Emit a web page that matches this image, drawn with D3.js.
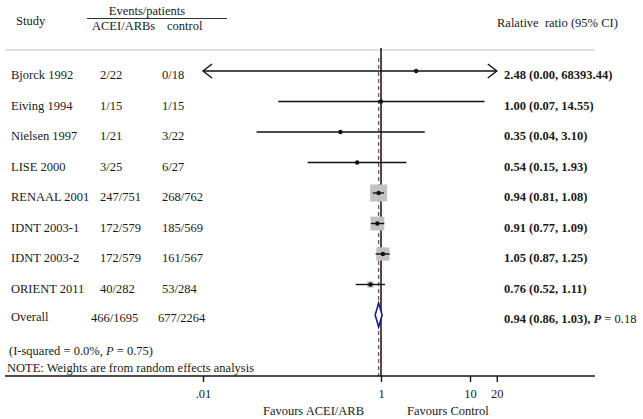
<!DOCTYPE html>
<html><head><meta charset="utf-8">
<script src="https://cdn.jsdelivr.net/npm/d3@7"></script>
<style>
html,body{margin:0;padding:0;background:#fff;}
svg{display:block;font-family:"Liberation Serif","Times New Roman",serif;}
</style></head>
<body>
<svg id="chart" width="643" height="419"></svg>
<script>
const studies = ["Bjorck 1992","Eiving 1994","Nielsen 1997","LISE 2000","RENAAL 2001","IDNT 2003-1","IDNT 2003-2","ORIENT 2011"];
const aceiEvents = ["2/22","1/15","1/21","3/25","247/751","172/579","172/579","40/282"];
const controlEvents = ["0/18","1/15","3/22","6/27","268/762","185/569","161/567","53/284"];
const rr = [2.48, 1.00, 0.35, 0.54, 0.94, 0.91, 1.05, 0.76];
const ciLow = [0.00, 0.07, 0.04, 0.15, 0.81, 0.77, 0.87, 0.52];
const ciHigh = [68393.44, 14.55, 3.10, 1.93, 1.08, 1.09, 1.25, 1.11];
const weights = [0.02, 0.11, 0.17, 0.5, 41.2, 27.4, 24.8, 5.8];
const overall = {label:"Overall", acei:"466/1695", control:"677/2264", rr:0.94, lo:0.86, hi:1.03, p:"0.18"};
const heterogeneity = {i2:"0.0%", p:"0.75"};
const tickValues = [0.01, 1, 10, 20];
const tickLabels = [".01", "1", "10", "20"];

const svg = d3.select("#chart");
const FS = 12.5;
const textCol = "#1a1a1a";

const x = d3.scaleLog().domain([0.01, 20]).range([203, 496.8]);
const [dmin, dmax] = x.domain();
const nRows = studies.length + 1;
const y = d3.scalePoint().domain(d3.range(nRows)).range([71, 315]);
const axisY = 376;

// header
svg.append("text").attr("x",16).attr("y",21).attr("dominant-baseline","central")
  .attr("font-size",FS).attr("fill",textCol).text("Study");
svg.append("text").attr("x",147).attr("y",11).attr("dominant-baseline","central").attr("text-anchor","middle")
  .attr("font-size",FS).attr("fill",textCol).text("Events/patients");
svg.append("line").attr("x1",87).attr("x2",227).attr("y1",18.5).attr("y2",18.5).attr("stroke","#333").attr("stroke-width",1);
svg.append("text").attr("x",92).attr("y",26).attr("dominant-baseline","central")
  .attr("font-size",FS).attr("fill",textCol).text("ACEI/ARBs");
svg.append("text").attr("x",167).attr("y",26).attr("dominant-baseline","central")
  .attr("font-size",FS).attr("fill",textCol).text("control");
svg.append("text").attr("x",497).attr("y",23).attr("dominant-baseline","central")
  .attr("font-size",FS).attr("fill",textCol).attr("xml:space","preserve").text("Ralative  ratio (95% CI)");

// top rule
svg.append("line").attr("x1",5).attr("x2",595).attr("y1",50).attr("y2",50).attr("stroke","#c4c4c4").attr("stroke-width",1.2);

// null line and overall dashed line
svg.append("line").attr("x1",x(1)).attr("x2",x(1)).attr("y1",48).attr("y2",axisY)
  .attr("stroke","#111").attr("stroke-width",1.5);
svg.append("line").attr("x1",x(overall.rr)).attr("x2",x(overall.rr)).attr("y1",58).attr("y2",axisY)
  .attr("stroke","#8e4a5c").attr("stroke-width",1.3).attr("stroke-dasharray","4,3");

// boxes
const maxSide = 17;
const side = w => maxSide * Math.sqrt(w / d3.max(weights));
const rows = studies.map((s,i)=>({s,i,acei:aceiEvents[i],ctrl:controlEvents[i],rr:rr[i],lo:ciLow[i],hi:ciHigh[i],w:weights[i]}));

const g = svg.append("g");
g.selectAll("rect.box").data(rows.filter(d=>side(d.w)>3)).join("rect")
  .attr("x",d=>x(d.rr)-side(d.w)/2).attr("y",d=>y(d.i)-side(d.w)/2)
  .attr("width",d=>side(d.w)).attr("height",d=>side(d.w)).attr("fill","#c2c2c2");

// CI lines
g.selectAll("line.ci").data(rows).join("line")
  .attr("x1",d=>x(Math.max(d.lo,dmin))).attr("x2",d=>x(Math.min(d.hi,dmax)))
  .attr("y1",d=>y(d.i)).attr("y2",d=>y(d.i)).attr("stroke","#111").attr("stroke-width",1.4);

// arrows for clipped CIs
rows.forEach(d=>{
  const yy = y(d.i);
  if (d.lo < dmin) {
    const x0 = x(dmin);
    g.append("path").attr("d",`M${x0+9},${yy-7}L${x0},${yy}L${x0+9},${yy+7}`)
      .attr("fill","none").attr("stroke","#111").attr("stroke-width",1.4);
  }
  if (d.hi > dmax) {
    const x1 = x(dmax);
    g.append("path").attr("d",`M${x1-9},${yy-7}L${x1},${yy}L${x1-9},${yy+7}`)
      .attr("fill","none").attr("stroke","#111").attr("stroke-width",1.4);
  }
});

// points
g.selectAll("circle.pt").data(rows).join("circle")
  .attr("cx",d=>x(d.rr)).attr("cy",d=>y(d.i)).attr("r",2.2).attr("fill","#111");

// overall diamond
const oy = y(studies.length);
svg.append("path")
  .attr("d",`M${x(overall.lo)},${oy}L${x(overall.rr)},${oy-12}L${x(overall.hi)},${oy}L${x(overall.rr)},${oy+12}Z`)
  .attr("fill","#fff").attr("stroke","#1c1c8a").attr("stroke-width",1.6);

// left text columns
const tg = svg.append("g").attr("font-size",FS).attr("fill",textCol);
tg.selectAll("text.study").data(rows).join("text")
  .attr("x",11).attr("y",d=>y(d.i)+4).attr("dominant-baseline","central").text(d=>d.s);
tg.selectAll("text.acei").data(rows).join("text")
  .attr("x",100).attr("y",d=>y(d.i)+4).attr("dominant-baseline","central").text(d=>d.acei);
tg.selectAll("text.ctrl").data(rows).join("text")
  .attr("x",162).attr("y",d=>y(d.i)+4).attr("dominant-baseline","central").text(d=>d.ctrl);
tg.append("text").attr("x",11).attr("y",oy+2).attr("dominant-baseline","central").text(overall.label);
tg.append("text").attr("x",91).attr("y",oy+3).attr("dominant-baseline","central").text(overall.acei);
tg.append("text").attr("x",158).attr("y",oy+3).attr("dominant-baseline","central").text(overall.control);

// right column
const rg = svg.append("g").attr("font-size",FS).attr("fill",textCol).attr("font-weight","bold");
rg.selectAll("text.rr").data(rows).join("text")
  .attr("x",504).attr("y",d=>y(d.i)+4).attr("dominant-baseline","central")
  .text(d=>`${d.rr.toFixed(2)} (${d.lo.toFixed(2)}, ${d.hi.toFixed(2)})`);
const ot = rg.append("text").attr("x",504).attr("y",oy+4).attr("dominant-baseline","central");
ot.append("tspan").text(`${overall.rr.toFixed(2)} (${overall.lo.toFixed(2)}, ${overall.hi.toFixed(2)}), `);
ot.append("tspan").attr("font-style","italic").text("P");
ot.append("tspan").attr("font-weight","normal").text(` = ${overall.p}`);

// notes
const n1 = tg.append("text").attr("x",9).attr("y",351).attr("dominant-baseline","central");
n1.append("tspan").text(`(I-squared = ${heterogeneity.i2}, `);
n1.append("tspan").attr("font-style","italic").text("P");
n1.append("tspan").text(` = ${heterogeneity.p})`);
tg.append("text").attr("x",7).attr("y",368).attr("dominant-baseline","central")
  .text("NOTE: Weights are from random effects analysis");

// x axis
svg.append("line").attr("x1",5).attr("x2",595).attr("y1",axisY).attr("y2",axisY).attr("stroke","#111").attr("stroke-width",1.4);
const ax = svg.append("g").attr("transform",`translate(0,${axisY})`)
  .call(d3.axisBottom(x).tickValues(tickValues).tickFormat((d,i)=>tickLabels[i]).tickSize(6).tickSizeOuter(0));
ax.select(".domain").remove();
ax.selectAll(".tick line").attr("stroke","#111").attr("stroke-width",1.4);
ax.selectAll(".tick text").attr("font-family","Liberation Serif, serif").attr("font-size",FS).attr("fill",textCol).attr("dy","1.05em");

svg.append("text").attr("x",x(1)-17).attr("y",411).attr("text-anchor","end").attr("dominant-baseline","central")
  .attr("font-size",FS).attr("fill",textCol).text("Favours ACEI/ARB");
svg.append("text").attr("x",x(1)+26).attr("y",411).attr("dominant-baseline","central")
  .attr("font-size",FS).attr("fill",textCol).text("Favours Control");
</script>
</body></html>
